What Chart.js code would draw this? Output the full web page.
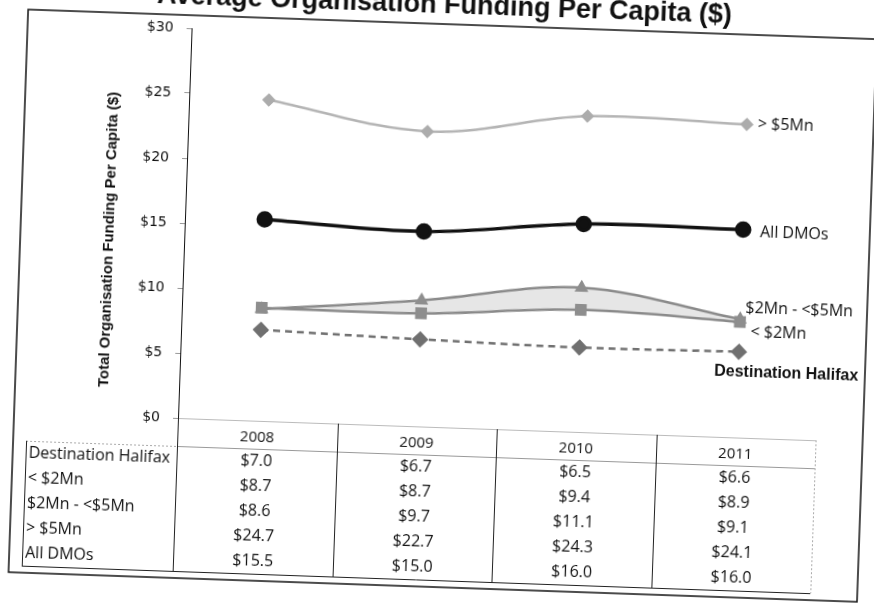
<!DOCTYPE html>
<html>
<head>
<meta charset="utf-8">
<title>Average Organisation Funding Per Capita</title>
<script src="https://cdn.jsdelivr.net/npm/chart.js@4.4.1/dist/chart.umd.min.js"></script>
<style>
  html, body { margin: 0; padding: 0; background: #fff; overflow: hidden; width: 874px; height: 606px; }
  /* the reference is a slightly tilted scan, so the whole chart is turned by 2 degrees */
  #wrap { position: absolute; left: 0; top: -30px; width: 874px; height: 640px;
          transform: rotate(2deg); transform-origin: 178px 448px; }
</style>
</head>
<body>
<div id="wrap"><canvas id="fundingChart" width="874" height="640"></canvas></div>
<script>
const years = ['2008', '2009', '2010', '2011'];
const seriesNames = ['Destination Halifax', '< $2Mn', '$2Mn - <$5Mn', '> $5Mn', 'All DMOs'];
const halifax = [7.0, 6.7, 6.5, 6.6];
const under2Mn = [8.7, 8.7, 9.4, 8.9];
const from2To5Mn = [8.6, 9.7, 11.1, 9.1];
const over5Mn = [24.7, 22.7, 24.3, 24.1];
const allDMOs = [15.5, 15.0, 16.0, 16.0];
const yMax = 30;
const yStep = 5;
const chartTitle = 'Average Organisation Funding Per Capita ($)';
const yTitle = 'Total Organisation Funding Per Capita ($)';

const seriesValues = [halifax, under2Mn, from2To5Mn, over5Mn, allDMOs];

// where each end-of-line label sits, relative to the last point of its line
const endLabels = [
    { dx: -24, dy: 20, font: 'bold 16px "Liberation Sans"' },
    { dx: 11, dy: 10, font: '16px "Open Sans"' },
    { dx: 5, dy: -11, font: '16px "Open Sans"' },
    { dx: 11, dy: 0, font: '16px "Open Sans"' },
    { dx: 17, dy: 2, font: '16px "Open Sans"' }
];

const money = v => '$' + v.toFixed(1);

// Draws the title, the frame, the y axis title, the labels at the line ends and the data table
const extrasPlugin = {
    id: 'extras',
    afterDraw(chart) {
        const ctx = chart.ctx;
        const area = chart.chartArea;
        const xScale = chart.scales.x;
        const colW = (area.right - area.left) / years.length;
        const headBottom = area.bottom + 28;
        const rowH = 25;
        const tableBottom = headBottom + rowH * seriesNames.length;
        const labelLeft = 27;

        ctx.save();

        // chart title (partly cut off at the top, as on the scan)
        ctx.fillStyle = '#111';
        ctx.font = 'bold 27px "Liberation Sans"';
        ctx.textAlign = 'center';
        ctx.textBaseline = 'middle';
        ctx.fillText(chartTitle, 430, 27);

        // outer frame
        ctx.strokeStyle = '#111';
        ctx.lineWidth = 1.5;
        ctx.strokeRect(14, 45, 849, 563);

        // y axis title
        ctx.save();
        ctx.translate(area.left - 75, (area.top + area.bottom) / 2 + 19);
        ctx.rotate(-Math.PI / 2);
        ctx.font = 'bold 15px "Liberation Sans"';
        ctx.fillText(yTitle, 0, 0);
        ctx.restore();

        // labels at the end of each line
        ctx.textAlign = 'left';
        seriesNames.forEach((name, i) => {
            const pts = chart.getDatasetMeta(i).data;
            const last = pts[pts.length - 1];
            ctx.font = endLabels[i].font;
            ctx.fillText(name, last.x + endLabels[i].dx, last.y + endLabels[i].dy);
        });

        // data table lines
        ctx.lineWidth = 1;
        ctx.strokeStyle = '#aaa';
        ctx.setLineDash([2, 2]);
        ctx.beginPath();
        ctx.moveTo(area.right + 0.5, area.bottom);
        ctx.lineTo(area.right + 0.5, tableBottom);
        ctx.moveTo(labelLeft, headBottom + 0.5);
        ctx.lineTo(area.left, headBottom + 0.5);
        ctx.stroke();
        ctx.setLineDash([]);

        ctx.strokeStyle = '#999';
        ctx.beginPath();
        ctx.moveTo(area.left, headBottom + 0.5);
        ctx.lineTo(area.right, headBottom + 0.5);
        ctx.stroke();

        ctx.strokeStyle = '#222';
        ctx.beginPath();
        for (let i = 0; i < years.length; i++) {
            const bx = Math.round(area.left + colW * i) + 0.5;
            ctx.moveTo(bx, area.bottom);
            ctx.lineTo(bx, tableBottom);
        }
        ctx.moveTo(labelLeft + 0.5, headBottom);
        ctx.lineTo(labelLeft + 0.5, tableBottom);
        ctx.moveTo(labelLeft, tableBottom + 0.5);
        ctx.lineTo(area.right, tableBottom + 0.5);
        ctx.stroke();

        // row labels and values
        seriesNames.forEach((name, r) => {
            const cy = headBottom + rowH * r + rowH / 2;
            ctx.font = '16px "Open Sans"';
            ctx.textAlign = 'left';
            ctx.fillText(name, labelLeft + 3, cy);
            ctx.textAlign = 'center';
            seriesValues[r].forEach((v, c) => {
                ctx.fillText(money(v), xScale.getPixelForValue(c), cy);
            });
        });

        ctx.restore();
    }
};

const ctx = document.getElementById('fundingChart').getContext('2d');

new Chart(ctx, {
    type: 'line',
    data: {
        labels: years,
        datasets: [
            {
                label: seriesNames[0],
                data: halifax,
                borderColor: '#707070',
                borderWidth: 2.5,
                borderDash: [7, 5],
                pointStyle: 'rectRot',
                pointRadius: 6.5,
                pointBackgroundColor: '#707070',
                pointBorderColor: '#707070',
                fill: false
            },
            {
                label: seriesNames[1],
                data: under2Mn,
                borderColor: '#8a8a8a',
                borderWidth: 2.5,
                pointStyle: 'rect',
                pointRadius: 6.5,
                pointBackgroundColor: '#8e8e8e',
                pointBorderColor: '#8e8e8e',
                fill: false
            },
            {
                label: seriesNames[2],
                data: from2To5Mn,
                borderColor: '#8a8a8a',
                backgroundColor: '#e6e6e6',
                borderWidth: 2.5,
                pointStyle: 'triangle',
                pointRadius: 5.5,
                pointBackgroundColor: '#8e8e8e',
                pointBorderColor: '#8e8e8e',
                fill: '-1'
            },
            {
                label: seriesNames[3],
                data: over5Mn,
                borderColor: '#b4b4b4',
                borderWidth: 2.5,
                pointStyle: 'rectRot',
                pointRadius: 5,
                pointBackgroundColor: '#acacac',
                pointBorderColor: '#acacac',
                fill: false
            },
            {
                label: seriesNames[4],
                data: allDMOs,
                borderColor: '#111',
                borderWidth: 3.5,
                pointStyle: 'circle',
                pointRadius: 6.5,
                pointBackgroundColor: '#111',
                pointBorderColor: '#111',
                fill: false
            }
        ]
    },
    options: {
        responsive: false,
        animation: false,
        devicePixelRatio: 1,
        tension: 0.35,
        layout: {
            padding: { left: 0, right: 58, top: 58, bottom: 164 }
        },
        plugins: {
            legend: { display: false },
            tooltip: { enabled: false },
            title: { display: false }
        },
        scales: {
            x: {
                offset: true,
                grid: { display: false, drawTicks: false },
                border: { display: true, color: '#bbb', dash: [2, 2] },
                ticks: {
                    color: '#111',
                    padding: 8,
                    font: { family: '"Open Sans"', size: 15 }
                },
                afterFit(scale) { scale.height = 28; }
            },
            y: {
                min: 0,
                max: yMax,
                grid: { drawOnChartArea: false, tickLength: 5, color: '#999' },
                border: { display: true, color: '#111', width: 1 },
                ticks: {
                    stepSize: yStep,
                    padding: 13,
                    color: '#111',
                    font: { family: '"DejaVu Sans"', size: 14 },
                    callback: v => '$' + v
                },
                afterFit(scale) { scale.width = 178; }
            }
        }
    },
    plugins: [extrasPlugin]
});
</script>
</body>
</html>
